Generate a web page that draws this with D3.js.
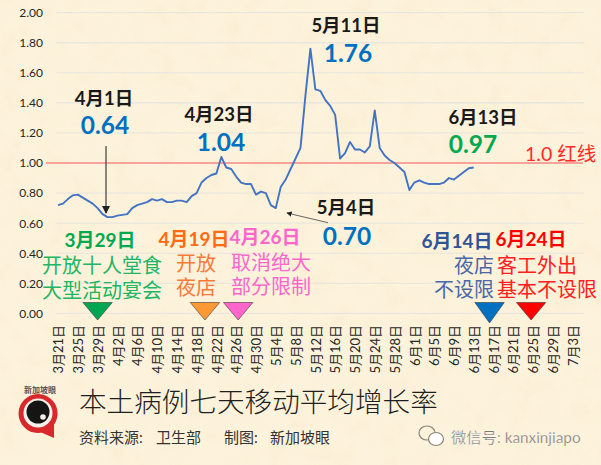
<!DOCTYPE html>
<html><head><meta charset="utf-8">
<script src="https://cdn.jsdelivr.net/npm/d3@7"></script>
<style>
html,body{margin:0;padding:0;background:#fdf3dc;overflow:hidden}
svg{display:block}
text{font-family:Lato,"Noto Sans CJK SC",sans-serif}
</style></head><body>
<svg id="c" width="601" height="465"></svg>
<script>
const tickLabels=["3月21日","3月25日","3月29日","4月2日","4月6日","4月10日","4月14日","4月18日","4月22日","4月26日","4月30日","5月4日","5月8日","5月12日","5月16日","5月20日","5月24日","5月28日","6月1日","6月5日","6月9日","6月13日","6月17日","6月21日","6月25日","6月29日","7月3日"];
const yTicks=[0,0.2,0.4,0.6,0.8,1.0,1.2,1.4,1.6,1.8,2.0];
const growthRate=[0.72,0.73,0.76,0.785,0.79,0.77,0.75,0.73,0.70,0.66,0.64,0.64,0.65,0.655,0.66,0.70,0.72,0.73,0.74,0.76,0.75,0.76,0.74,0.74,0.75,0.75,0.74,0.78,0.80,0.87,0.90,0.92,0.93,1.04,0.97,0.96,0.91,0.87,0.86,0.86,0.79,0.81,0.80,0.72,0.70,0.84,0.89,0.96,1.03,1.10,1.45,1.76,1.49,1.48,1.42,1.38,1.32,1.03,1.065,1.14,1.09,1.09,1.07,1.11,1.35,1.10,1.05,1.02,1.00,0.97,0.94,0.82,0.87,0.885,0.87,0.86,0.86,0.86,0.87,0.90,0.89,0.915,0.94,0.965,0.97];
const redLineValue=[1.0];
const markerDates=["3月29日","4月20日","4月26日","6月16日","6月25日"];
const markerColors=["#00a651","#ff9933","#ff66cc","#0070c0","#ff0000"];

const allDays=d3.timeDay.range(new Date(2020,2,21),new Date(2020,6,4)).map(d=>`${d.getMonth()+1}月${d.getDate()}日`);
const svg=d3.select("#c");
const defs=svg.append("defs");
const f=defs.append("filter").attr("id","paper").attr("x",0).attr("y",0).attr("width","100%").attr("height","100%");
f.append("feTurbulence").attr("type","fractalNoise").attr("baseFrequency",0.045).attr("numOctaves",4).attr("seed",7);
f.append("feColorMatrix").attr("values","0 0 0 0 0.86  0 0 0 0 0.72  0 0 0 0 0.45  1.1 0 0 0 -0.42");
svg.append("rect").attr("width",601).attr("height",465).attr("fill","#fdf3dc");
svg.append("rect").attr("width",601).attr("height",465).attr("filter","url(#paper)").attr("opacity",0.3);

const x=d3.scalePoint().domain(allDays).range([58,572.7]);
const y=d3.scaleLinear().domain([0,2]).range([313.4,12.6]);

svg.append("g").selectAll("line").data(yTicks).join("line")
 .attr("x1",56).attr("x2",584).attr("y1",d=>y(d)).attr("y2",d=>y(d))
 .attr("stroke",d=>(d===1.8||d===1.4)?"#e9e6df":"#e6e4de").attr("stroke-width",d=>(d===1.8||d===1.4)?1.5:1);

const ya=svg.append("g").attr("transform","translate(56,0)").call(d3.axisLeft(y).tickValues(yTicks).tickSize(0).tickPadding(13).tickFormat(d3.format(".2f")));
ya.select(".domain").remove();
ya.selectAll("text").attr("font-size",12).attr("fill","#262626").style("font-family","Lato");

const xa=svg.append("g").attr("transform",`translate(0,${y(0)})`).call(d3.axisBottom(x).tickValues(tickLabels).tickSize(0));
xa.select(".domain").remove();
xa.selectAll("text").attr("transform","rotate(-90)").attr("text-anchor","end").attr("x",-11.5).attr("y",0).attr("dy",".36em").attr("font-size",13).attr("fill","#262626");

svg.append("g").selectAll("line").data(redLineValue).join("line")
 .attr("x1",46).attr("x2",583).attr("y1",d=>y(d)).attr("y2",d=>y(d)).attr("stroke","#ff5a5a").attr("stroke-width",1.1);

const line=d3.line().x((d,i)=>x(allDays[i])).y(d=>y(d));
svg.append("path").datum(growthRate).attr("d",line).attr("fill","none").attr("stroke","#4472c4").attr("stroke-width",1.9).attr("stroke-linejoin","round");

const tipNudge=[0,-1.5,2,1,-2], tipY=[320,320,320,323,320];
svg.append("g").selectAll("path").data(markerDates).join("path")
 .attr("d",(d,i)=>{const c=x(d)+tipNudge[i];return `M${c-14.7},302.5H${c+14.7}L${c},${tipY[i]}Z`;})
 .attr("fill",(d,i)=>markerColors[i]).attr("stroke","#3a3a3a").attr("stroke-width",0.6);

defs.append("marker").attr("id","ah").attr("viewBox","0 0 8 8").attr("refX",7).attr("refY",4).attr("markerWidth",6).attr("markerHeight",6).attr("orient","auto").append("path").attr("d","M0,0L8,4L0,8Z").attr("fill","#222");
svg.append("line").attr("x1",106).attr("y1",146).attr("x2",106).attr("y2",213).attr("stroke","#5a5650").attr("stroke-width",1.4).attr("marker-end","url(#ah)");
svg.append("line").attr("x1",328).attr("y1",222.7).attr("x2",287).attr("y2",213).attr("stroke","#5a5650").attr("stroke-width",0.9).attr("marker-end","url(#ah)");

const labels=[
["4月1日",104,105,18.5,700,"#1a1a1a","middle"],
["0.64",105,134,24.5,700,"#0070c0","middle"],
["4月23日",219,121,18.5,700,"#1a1a1a","middle"],
["1.04",221,151,24.5,700,"#0070c0","middle"],
["5月11日",346,32,18.5,700,"#1a1a1a","middle"],
["1.76",348,62,24.5,700,"#0070c0","middle"],
["6月13日",483,124,18.5,700,"#1a1a1a","middle"],
["0.97",473,153,24.5,700,"#00a84f","middle"],
["1.0 红线",525,161,19.5,400,"#ff2a2a","start"],
["5月4日",346,214,18.5,700,"#1a1a1a","middle"],
["0.70",347,245,24.5,700,"#0070c0","middle"],
["3月29日",100,247,19,700,"#00a84f","middle"],
["4月19日",194,246,19,700,"#ff6a13","middle"],
["4月26日",265,244,19,700,"#ff66cc","middle"],
["开放十人堂食",102,273,20,400,"#22b565","middle"],
["大型活动宴会",102,298,20,400,"#22b565","middle"],
["开放",196,271,20,400,"#f57a3a","middle"],
["夜店",196,295,20,400,"#f57a3a","middle"],
["取消绝大",231,270,20,400,"#ff66cc","start"],
["部分限制",231,294,20,400,"#ff66cc","start"],
["6月14日",457,248,19,700,"#2f5597","middle"],
["6月24日",531,246,19,700,"#ff0000","middle"],
["夜店",494,273,20,400,"#4a68a8","end"],
["不设限",494,297,20,400,"#4a68a8","end"],
["客工外出",497,273,20,400,"#ff2020","start"],
["基本不设限",497,297,20,400,"#ff2020","start"],
["本土病例七天移动平均增长率",79,412,27.6,300,"#1f1f1f","start"],
["资料来源:",79,443,15,400,"#333","start"],
["卫生部",156,443,15,400,"#333","start"],
["制图:",224,443,15,400,"#333","start"],
["新加坡眼",270,443,15,400,"#333","start"],
["新加坡眼",40,393,8,700,"#555","middle"]
];
svg.append("g").selectAll("text").data(labels).join("text")
 .text(d=>d[0]).attr("x",d=>d[1]).attr("y",d=>d[2]).attr("font-size",d=>d[3]).attr("font-weight",d=>d[4]).attr("fill",d=>d[5]).attr("text-anchor",d=>d[6]);

const logo=svg.append("g");
logo.append("path").attr("d","M38,394a19.5,19.5 0 1 0 0.1,0Z M38,431 L54,438 L54,421Z").attr("fill","#d9282b");
logo.append("circle").attr("cx",38).attr("cy",413).attr("r",14.5).attr("fill","#f4f1ea");
logo.append("circle").attr("cx",38).attr("cy",412).attr("r",11.5).attr("fill","#151515");
logo.append("circle").attr("cx",43).attr("cy",417).attr("r",2.8).attr("fill","#f4f1ea");

const wx=svg.append("g");
wx.append("ellipse").attr("cx",427).attr("cy",433).attr("rx",8).attr("ry",7).attr("fill","none").attr("stroke","#8a8378").attr("stroke-width",1.2);
wx.append("ellipse").attr("cx",436).attr("cy",439).attr("rx",7.5).attr("ry",6.5).attr("fill","#fff").attr("stroke","#8a8378").attr("stroke-width",1.2);
svg.append("text").text("微信号: kanxinjiapo").attr("x",451).attr("y",443).attr("font-size",15.3).attr("fill","#7d7a74").attr("stroke","#fff").attr("stroke-width",0.25);
</script></body></html>
